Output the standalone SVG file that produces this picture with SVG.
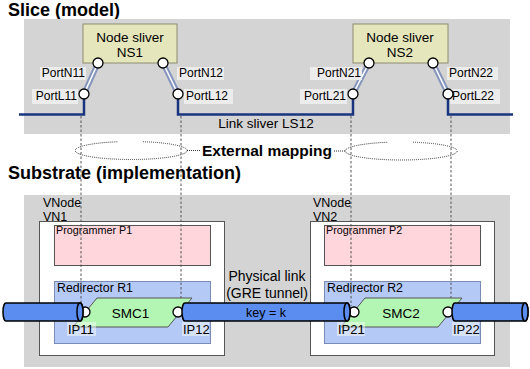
<svg xmlns="http://www.w3.org/2000/svg" width="530" height="369" viewBox="0 0 530 369">
<style>
text{font-family:"Liberation Sans",Arial,sans-serif;fill:#000}
.title{font-weight:bold;font-size:18px}
.bg{fill:#d4d4d4}
.ns{fill:#e6e6bc;stroke:#8c8c70;stroke-width:1}
.nst{font-size:13.5px;text-anchor:middle}
.plbg{fill:#ececec}
.pl{font-size:12px}
.port{fill:#fff;stroke:#000;stroke-width:1.3}
.dbl{stroke:#8494bc;stroke-width:5.5;fill:none}
.dbli{stroke:#fff;stroke-width:1.6;fill:none}
.link{stroke:#1a3580;stroke-width:2.5;fill:none}
.map{stroke:#555;stroke-width:1;stroke-dasharray:2.5,2;fill:none}
.ell{stroke:#333;stroke-width:1;stroke-dasharray:1,1;fill:none}
.vn{fill:#fff;stroke:#555}
.prog{fill:#ffd6dc;stroke:#555}
.red{fill:#b5c9f6;stroke:#7a8cb5}
.smc{fill:#b3f5b3;stroke:#555}
.tun{fill:#5b8cf0;stroke:#000;stroke-width:1.5}
.iplbg{fill:#fff;fill-opacity:0.45}
.lbl{font-size:12.5px}
.ip{font-size:13px}
</style>
<text class="title" x="8" y="16">Slice (model)</text>
<rect class="bg" x="24" y="19" width="486" height="115"/>
<text class="title" x="8" y="179">Substrate (implementation)</text>
<rect class="bg" x="24" y="195" width="486" height="172"/>

<g id="NS1">
<rect class="ns" x="83" y="24" width="94" height="39"/>
<text class="nst" x="130" y="42">Node sliver</text>
<text class="nst" x="130" y="57">NS1</text>
</g>
<g id="NS2">
<rect class="ns" x="353" y="24" width="95" height="39"/>
<text class="nst" x="400" y="42">Node sliver</text>
<text class="nst" x="400" y="57">NS2</text>
</g>

<g id="VN1">
<text class="lbl" x="43" y="206.5">VNode</text>
<text class="lbl" x="43" y="221">VN1</text>
<rect class="vn" x="39.5" y="221.5" width="185" height="134"/>
</g>
<g id="P1">
<rect class="prog" x="54.5" y="225.5" width="156" height="40"/>
<text x="56" y="233.5" font-size="10.8">Programmer P1</text>
</g>
<g id="R1">
<rect class="red" x="54.5" y="281.5" width="156" height="62"/>
<text x="57" y="292" font-size="12.3">Redirector R1</text>
</g>
<g id="VN2">
<text class="lbl" x="313" y="206.5">VNode</text>
<text class="lbl" x="313" y="221">VN2</text>
<rect class="vn" x="310.5" y="221.5" width="184" height="134"/>
</g>
<g id="P2">
<rect class="prog" x="324.5" y="225.5" width="156" height="40"/>
<text x="326" y="233.5" font-size="10.8">Programmer P2</text>
</g>
<g id="R2">
<rect class="red" x="324.5" y="281.5" width="156" height="62"/>
<text x="327" y="292" font-size="12.3">Redirector R2</text>
</g>

<g id="connectors">
<path class="link" d="M19,114.5 H84 V98 M178,98 V114.5 H353 V98 M448,98 V114.5 H513"/>
<path class="dbl" d="M98,63 L84,94 M163,63 L178,94 M369,63 L353,94 M433,63 L448,94"/>
<path class="dbli" d="M98,63 L84,94 M163,63 L178,94 M369,63 L353,94 M433,63 L448,94"/>
<path class="map" d="M81,116 V306 M181,116 V306 M351,116 V306 M451,116 V306"/>
<path class="ell" d="M143,141.7 A56,9 0 1 1 118,141.75 M187,150.5 H201"/>
<path class="ell" d="M413,142.2 A56,9 0 1 1 388,142.25 M334,151 H345"/>
</g>
<text x="266" y="128" font-size="13.5" text-anchor="middle">Link sliver LS12</text>
<text x="267" y="156" font-size="15.5" font-weight="bold" text-anchor="middle">External mapping</text>

<g id="SMC1">
<polygon class="smc" points="97,298 192,298 168,327 73,327"/>
<text x="130.5" y="318" font-size="13.5" text-anchor="middle">SMC1</text>
</g>
<g id="SMC2">
<polygon class="smc" points="365,298 462,298 438,327 341,327"/>
<text x="401" y="318" font-size="13.5" text-anchor="middle">SMC2</text>
</g>

<g id="ports">
<rect class="plbg" x="40" y="67" width="46" height="13"/>
<text class="pl" x="85" y="77" text-anchor="end">PortN11</text>
<rect class="plbg" x="32" y="89" width="46" height="15"/>
<text class="pl" x="77" y="100" text-anchor="end">PortL11</text>
<rect class="plbg" x="177" y="67" width="47" height="13"/>
<text class="pl" x="179" y="77">PortN12</text>
<rect class="plbg" x="184" y="89" width="49" height="15"/>
<text class="pl" x="186" y="100">PortL12</text>
<rect class="plbg" x="310" y="67" width="52" height="13"/>
<text class="pl" x="361" y="77" text-anchor="end">PortN21</text>
<rect class="plbg" x="300" y="89" width="47" height="15"/>
<text class="pl" x="346" y="100" text-anchor="end">PortL21</text>
<rect class="plbg" x="447" y="67" width="51" height="13"/>
<text class="pl" x="449" y="77">PortN22</text>
<rect class="plbg" x="450" y="89" width="50" height="15"/>
<text class="pl" x="452" y="100">PortL22</text>
<circle class="port" cx="98" cy="63" r="5"/>
<circle class="port" cx="163" cy="63" r="5"/>
<circle class="port" cx="369" cy="63" r="5"/>
<circle class="port" cx="433" cy="63" r="5"/>
<circle class="port" cx="84" cy="94" r="5"/>
<circle class="port" cx="178" cy="94" r="5"/>
<circle class="port" cx="353" cy="94" r="5"/>
<circle class="port" cx="448" cy="94" r="5"/>
<circle class="port" cx="85" cy="312" r="5"/>
<circle class="port" cx="178" cy="312" r="5"/>
<circle class="port" cx="354" cy="312" r="5"/>
<circle class="port" cx="448" cy="312" r="5"/>
<rect class="iplbg" x="67" y="322" width="29" height="14"/>
<text class="ip" x="68" y="334">IP11</text>
<rect class="iplbg" x="182" y="322" width="27" height="14"/>
<text class="ip" x="183" y="334">IP12</text>
<rect class="iplbg" x="337" y="322" width="28" height="14"/>
<text class="ip" x="338" y="334">IP21</text>
<rect class="iplbg" x="452" y="322" width="27" height="14"/>
<text class="ip" x="453" y="334">IP22</text>
</g>

<g id="tunnels">
<path class="tun" d="M6,303 H80 A3,9 0 0 1 80,321 H6 A3,9 0 0 1 6,303 Z"/>
<ellipse class="tun" cx="80" cy="312" rx="3" ry="9"/>
<path class="tun" d="M185,303 H347 A3,9 0 0 1 347,321 H185 A3,9 0 0 1 185,303 Z"/>
<ellipse class="tun" cx="347" cy="312" rx="3" ry="9"/>
<path class="tun" d="M455,303 H525 A3,9 0 0 1 525,321 H455 A3,9 0 0 1 455,303 Z"/>
<ellipse class="tun" cx="525" cy="312" rx="3" ry="9"/>
</g>
<text x="266" y="316.5" font-size="12.5" text-anchor="middle">key = k</text>
<text x="267" y="281" font-size="14" text-anchor="middle">Physical link</text>
<text x="267" y="298" font-size="14" text-anchor="middle">(GRE tunnel)</text>
</svg>
